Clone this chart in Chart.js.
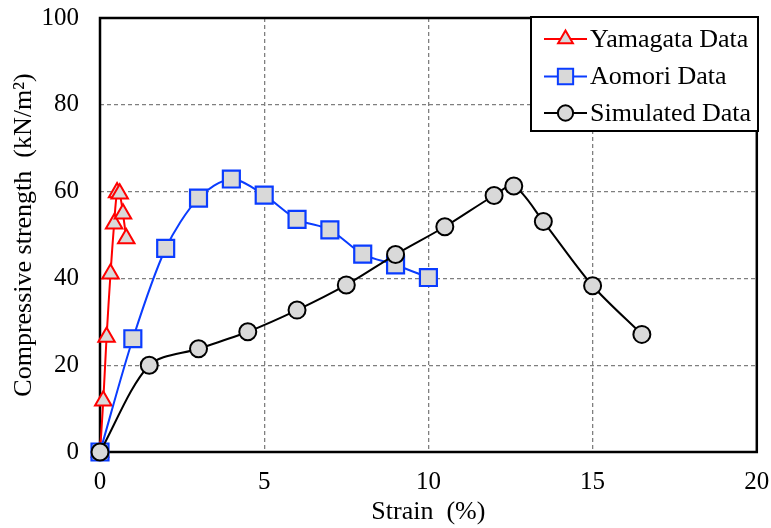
<!DOCTYPE html>
<html>
<head>
<meta charset="utf-8">
<script src="https://cdn.jsdelivr.net/npm/chart.js@4.4.1/dist/chart.umd.min.js"></script>
<style>
html,body{margin:0;padding:0;background:#fff;}
#wrap{width:771px;height:528px;}
</style>
</head>
<body>
<div id="wrap"><canvas id="c" width="771" height="528"></canvas></div>
<script>
// ---- data ----
const yamagataStrain = [0, 0.1, 0.2, 0.32, 0.43, 0.52, 0.6, 0.7, 0.8];
const yamagataStrength = [0, 11.8, 26.5, 41.1, 52.6, 59.8, 59.5, 54.9, 49.2];
const aomoriStrain = [0, 1, 2, 3, 4, 5, 6, 7, 8, 9, 10];
const aomoriStrength = [0, 26.1, 46.9, 58.5, 62.9, 59.2, 53.6, 51.2, 45.6, 43.1, 40.2];
const simStrain = [0, 1.5, 3, 4.5, 6, 7.5, 9, 10.5, 12, 12.6, 13.5, 15, 16.5];
const simStrength = [0, 20, 23.8, 27.7, 32.7, 38.5, 45.5, 51.9, 59.1, 61.3, 53.1, 38.3, 27.1];
const xTicks = [0, 5, 10, 15, 20];
const yTicks = [0, 20, 40, 60, 80, 100];
const seriesNames = ['Yamagata Data', 'Aomori Data', 'Simulated Data'];

const FONT = '"Liberation Serif", "Times New Roman", serif';
const FILL = '#d9d9d9';

function pts(xs, ys){ return xs.map((x,i)=>({x:x, y:ys[i]})); }

const frame = {
  id:'frame',
  beforeDatasetsDraw(chart){
    const a = chart.chartArea, ctx = chart.ctx;
    ctx.save();
    ctx.setLineDash([]);
    ctx.strokeStyle = '#000';
    ctx.lineWidth = 2.5;
    ctx.strokeRect(a.left, a.top, a.right - a.left, a.bottom - a.top);
    ctx.restore();
  }
};

const legendBox = {
  id:'legendBox',
  afterDraw(chart){
    const ctx = chart.ctx;
    const x0 = 531, y0 = 17, w = 227, h = 114;
    ctx.save();
    ctx.fillStyle = '#fff';
    ctx.fillRect(x0, y0, w, h);
    ctx.strokeStyle = '#000';
    ctx.lineWidth = 2;
    ctx.setLineDash([]);
    ctx.strokeRect(x0, y0, w, h);
    const rows = [39, 76.5, 113];
    chart.data.datasets.forEach((ds, i) => {
      const y = rows[i];
      ctx.strokeStyle = ds.borderColor;
      ctx.lineWidth = 1.8;
      ctx.beginPath();
      ctx.moveTo(544, y); ctx.lineTo(587, y);
      ctx.stroke();
      ctx.fillStyle = FILL;
      ctx.strokeStyle = ds.borderColor;
      ctx.lineWidth = 2;
      Chart.helpers.drawPoint(ctx, {pointStyle: ds.pointStyle, radius: ds.pointRadius*0.9, borderWidth: 2, rotation:0}, 565.5, y);
      ctx.fillStyle = '#000';
      ctx.font = '26px ' + FONT;
      ctx.textBaseline = 'middle';
      ctx.textAlign = 'left';
      ctx.fillText(ds.label, 590, y + 1);
    });
    ctx.restore();
  }
};

new Chart(document.getElementById('c'), {
  type: 'scatter',
  data: {
    datasets: [
      {label: seriesNames[0], data: pts(yamagataStrain, yamagataStrength), showLine: true,
       borderColor: '#ff0000', backgroundColor: FILL, borderWidth: 2, tension: 0.3,
       pointStyle: 'triangle', pointRadius: 9.5, pointBorderWidth: 2, pointBackgroundColor: FILL, pointBorderColor: '#ff0000',
       clip: false, order: 2},
      {label: seriesNames[1], data: pts(aomoriStrain, aomoriStrength), showLine: true,
       borderColor: '#0a3cff', backgroundColor: FILL, borderWidth: 2, tension: 0.3,
       pointStyle: 'rect', pointRadius: 12, pointBorderWidth: 2.2, pointBackgroundColor: FILL, pointBorderColor: '#0a3cff',
       clip: false, order: 1},
      {label: seriesNames[2], data: pts(simStrain, simStrength), showLine: true,
       borderColor: '#000000', backgroundColor: FILL, borderWidth: 2, tension: 0.3,
       pointStyle: 'circle', pointRadius: 8.5, pointBorderWidth: 2, pointBackgroundColor: FILL, pointBorderColor: '#000',
       clip: false, order: 0}
    ]
  },
  options: {
    responsive: false,
    animation: false,
    layout: {padding: {top: 18, right: 6, left: 0, bottom: 0}},
    plugins: {legend: {display: false}, tooltip: {enabled: false}},
    scales: {
      x: {
        type: 'linear', min: 0, max: 20,
        afterBuildTicks(s){ s.ticks = xTicks.map(v=>({value:v})); },
        afterFit(s){ s.height = 76; s.paddingLeft = 0; s.paddingRight = 0; },
        ticks: {color:'#000', font:{family: FONT, size: 25}, padding: 15, maxRotation: 0},
        grid: {drawTicks: false, lineWidth: 1.3,
               color: (c)=> (c.tick && (c.tick.value === 0 || c.tick.value === 20)) ? 'rgba(0,0,0,0)' : '#7f7f7f'},
        border: {display: false, dash: [4,3]},
        title: {display: true, text: 'Strain  (%)', color:'#000', font:{family: FONT, size: 26}, padding:{top:0, bottom:0}}
      },
      y: {
        type: 'linear', min: 0, max: 100,
        afterBuildTicks(s){ s.ticks = yTicks.map(v=>({value:v})); },
        afterFit(s){ s.width = 100; s.paddingTop = 0; s.paddingBottom = 0; },
        ticks: {color:'#000', font:{family: FONT, size: 25}, padding: 21},
        grid: {drawTicks: false, lineWidth: 1.3,
               color: (c)=> (c.tick && (c.tick.value === 0 || c.tick.value === 100)) ? 'rgba(0,0,0,0)' : '#7f7f7f'},
        border: {display: false, dash: [4,3]},
        title: {display: true, text: 'Compressive strength  (kN/m\u00B2)', color:'#000', font:{family: FONT, size: 26}, padding:{top:9, bottom:0}}
      }
    }
  },
  plugins: [frame, legendBox]
});
</script>
</body>
</html>
